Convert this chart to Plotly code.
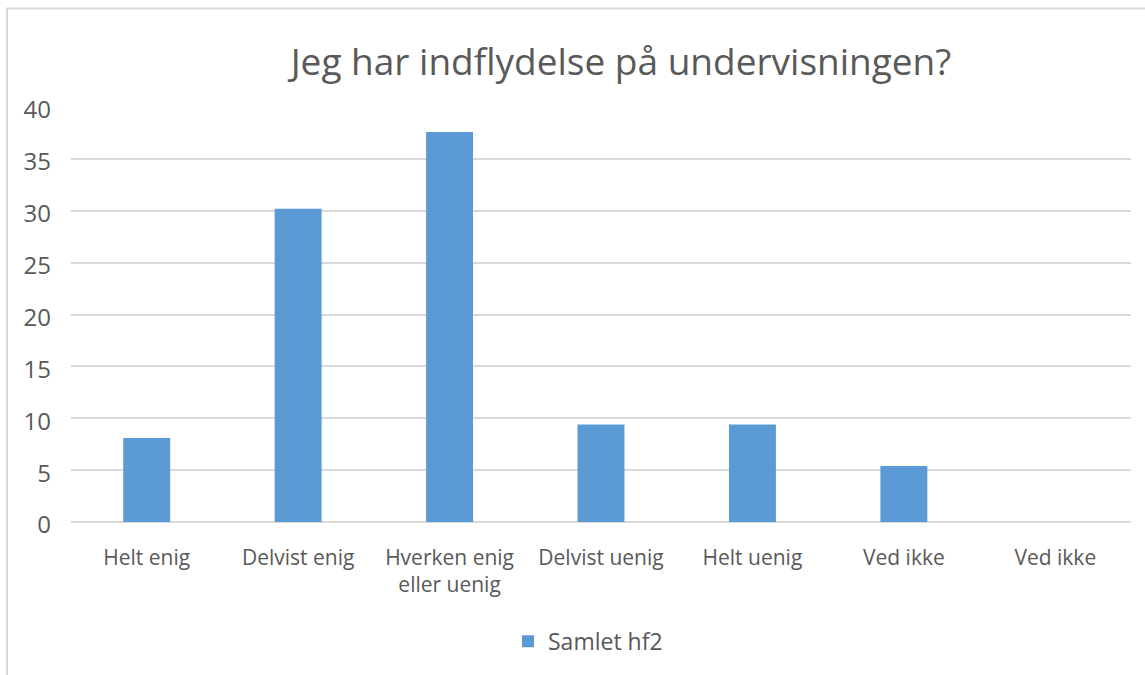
import plotly.graph_objects as go

categories = ["Helt enig", "Delvist enig", "Hverken enig<br>eller uenig", "Delvist uenig",
              "Helt uenig", "Ved ikke", "Ved ikke"]
values = [8.1, 30.2, 37.6, 9.4, 9.4, 5.4, 0]
series_name = "Samlet hf2"
y_ticks = [0, 5, 10, 15, 20, 25, 30, 35, 40]

positions = list(range(len(categories)))

W, H = 1145, 675
plot_left, plot_right, plot_top, plot_bottom = 71, 1131, 107, 528  # screen px
L, R, T, B = plot_left, W - plot_right, plot_top, H - plot_bottom
pw = W - L - R
ph = H - T - B

def px_to_paper_x(px):
    return (px - L) / pw

def px_to_paper_y(py):
    return (H - B - py) / ph

fig = go.Figure()
fig.add_trace(go.Bar(
    x=positions, y=values, name=series_name,
    marker=dict(color="#5b9bd5", line=dict(width=0)),
    width=0.31, showlegend=True,
))

FONT = "'Open Sans', Lato, sans-serif"
fig.update_layout(
    width=W, height=H,
    margin=dict(l=L, r=R, t=T, b=B),
    paper_bgcolor="white", plot_bgcolor="white",
    font=dict(family=FONT, color="#595959", size=21),
    title=dict(text="Jeg har indflydelse på undervisningen?",
               font=dict(size=37, color="#595959", family=FONT),
               xref="paper", x=px_to_paper_x(621), xanchor="center",
               yref="container", y=1 - 62 / H, yanchor="middle"),
    xaxis=dict(range=[-0.5, len(categories) - 0.5], tickvals=positions, ticktext=categories,
               showgrid=False, zeroline=False, showline=False, ticks="",
               ticklabelstandoff=21, tickfont=dict(size=21, color="#595959", family=FONT)),
    yaxis=dict(range=[0, 40], tickvals=y_ticks, showgrid=True, gridcolor="#d9d9d9",
               gridwidth=1.5, zeroline=True, zerolinecolor="#d9d9d9", zerolinewidth=1.5,
               showline=False, ticks="", ticklabelstandoff=19, ticklabelshift=3,
               tickfont=dict(size=24, color="#595959", family=FONT)),
    legend=dict(orientation="h", x=px_to_paper_x(508), xanchor="left",
                y=px_to_paper_y(649), yanchor="middle",
                font=dict(size=23, color="#595959", family=FONT), itemwidth=30),
    shapes=[dict(type="rect", xref="paper", yref="paper",
                 x0=px_to_paper_x(7), x1=px_to_paper_x(1200),
                 y0=px_to_paper_y(720), y1=px_to_paper_y(7),
                 line=dict(color="#d9d9d9", width=2), fillcolor="rgba(0,0,0,0)",
                 layer="below")],
)

fig.write_html(
    "out.html",
    config={"displayModeBar": False},
    post_script="document.body.style.margin='0';document.body.style.overflow='hidden';",
)
